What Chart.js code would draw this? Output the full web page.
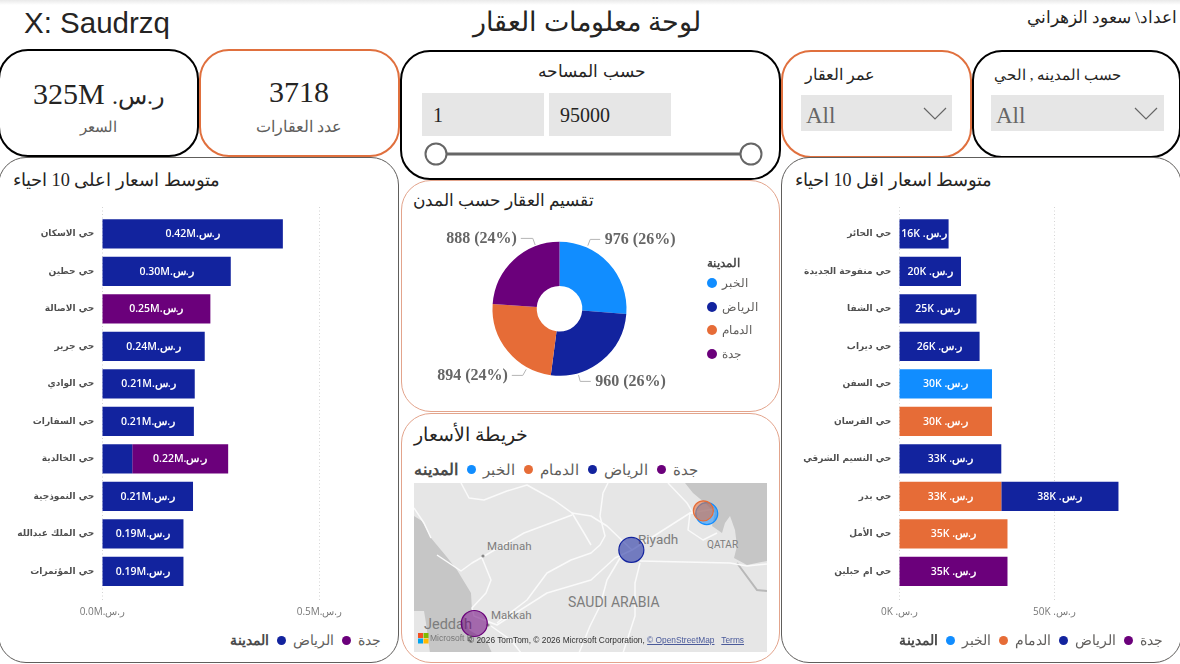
<!DOCTYPE html>
<html lang="ar"><head><meta charset="UTF-8"><title>لوحة معلومات العقار</title>
<script src="https://cdn.jsdelivr.net/npm/chart.js"></script>
<style>
  html,body{margin:0;padding:0;background:#fff;}
  body{position:relative;width:1180px;height:664px;overflow:hidden;font-family:"Liberation Serif",serif;color:#252423;}
  .topband{position:absolute;left:0;top:0;width:1180px;height:5px;background:linear-gradient(#e9e9e9,#fff);}
  .card{position:absolute;box-sizing:border-box;background:transparent;}
  .black{border:2px solid #000;border-radius:30px;}
  .orange{border:2px solid #e0703e;border-radius:30px;}
  .thin{border:1px solid #e3a48c;border-radius:30px;}
  .dark{border:1px solid #605e5c;border-radius:28px;}
  .t{position:absolute;white-space:nowrap;line-height:1;}
  .c{transform:translate(-50%,-50%);}
  .m{transform:translateY(-50%);}
  .box{position:absolute;background:#e6e6e6;}
  canvas{position:absolute;direction:rtl;}
  .legend{position:absolute;display:flex;align-items:center;direction:ltr;white-space:nowrap;color:#605e5c;font-family:"Open Sans",sans-serif;line-height:1;transform:translateY(-50%);}
  .legend b{color:#4a4a4a;}
  .dot{display:inline-block;border-radius:50%;}
  .vlegend{position:absolute;left:707px;top:256px;direction:ltr;color:#605e5c;font-family:"Open Sans",sans-serif;font-size:12px;}
  .vlegend div{position:absolute;white-space:nowrap;display:flex;align-items:center;height:14px;line-height:1;}
  svg{position:absolute;}
</style>
</head><body>
<div class="topband"></div>

<div class="t m" style="left:24px;top:23px;font:29.5px 'Liberation Sans',sans-serif;color:#252423;">X: Saudrzq</div>
<div class="t c" style="left:587px;top:22px;font-size:26.7px;">لوحة معلومات العقار</div>
<div class="t m" style="right:3px;top:18px;font-size:17.2px;" dir="rtl">اعداد\ سعود الزهراني</div>

<div class="card black" style="left:-2px;top:49px;width:201px;height:108px;"></div>
<div class="t c" id="kpiPrice" style="left:99px;top:94px;font-size:30px;" dir="rtl"></div>
<div class="t c" style="left:98px;top:127px;font-size:15px;color:#605e5c;">السعر</div>

<div class="card orange" style="left:199px;top:49px;width:201px;height:108px;"></div>
<div class="t c" id="kpiCount" style="left:299px;top:92px;font-size:30px;"></div>
<div class="t c" style="left:299px;top:127px;font-size:16.4px;color:#605e5c;">عدد العقارات</div>

<div class="card black" style="left:400px;top:50px;width:381px;height:130px;"></div>
<div class="t c" style="left:592px;top:72px;font-size:17.2px;">حسب المساحه</div>
<div class="box" style="left:422px;top:93px;width:122px;height:43px;"></div>
<div class="box" style="left:549px;top:93px;width:122px;height:43px;"></div>
<div class="t m" style="left:433px;top:115px;font-size:20px;">1</div>
<div class="t m" style="left:560px;top:115px;font-size:20px;">95000</div>
<svg style="left:420px;top:140px;" width="350" height="30">
  <line x1="16" y1="14" x2="331" y2="14" stroke="#666" stroke-width="3"/>
  <circle cx="16" cy="14" r="10.5" fill="#fff" stroke="#666" stroke-width="2"/>
  <circle cx="331" cy="14" r="10.5" fill="#fff" stroke="#666" stroke-width="2"/>
</svg>

<div class="card orange" style="left:781px;top:50px;width:191px;height:108px;"></div>
<div class="t m" style="left:805px;top:75px;font-size:16px;">عمر العقار</div>
<div class="box" style="left:801px;top:95px;width:151px;height:36px;"></div>
<div class="t m" style="left:806px;top:115px;font-size:23px;color:#666;">All</div>
<svg style="left:923px;top:107px;" width="25" height="15"><polyline points="1,1 12,12 23,1" fill="none" stroke="#666" stroke-width="1.2"/></svg>

<div class="card black" style="left:972px;top:50px;width:209px;height:108px;"></div>
<div class="t m" style="left:994px;top:75px;font-size:15.2px;">حسب المدينه , الحي</div>
<div class="box" style="left:991px;top:95px;width:173px;height:36px;"></div>
<div class="t m" style="left:996px;top:115px;font-size:23px;color:#666;">All</div>
<svg style="left:1134px;top:107px;" width="25" height="15"><polyline points="1,1 12,12 23,1" fill="none" stroke="#666" stroke-width="1.2"/></svg>

<div class="card dark" style="left:-2px;top:157px;width:401px;height:506px;"></div>
<div class="t m" style="left:13px;top:180px;font-size:18.3px;">متوسط اسعار اعلى 10 احياء</div>
<canvas id="topChart" width="399" height="430" style="left:0;top:200px;"></canvas>
<div class="legend" id="topLegend" style="right:799px;top:640px;font-size:14px;"></div>

<div class="card thin" style="left:401px;top:180px;width:379px;height:232px;"></div>
<div class="t m" style="left:413px;top:201px;font-size:16.6px;">تقسيم العقار حسب المدن</div>
<canvas id="pieChart" width="379" height="190" style="left:401px;top:215px;"></canvas>
<div class="vlegend" id="pieLegend"></div>

<div class="card thin" style="left:401px;top:413px;width:379px;height:250px;"></div>
<div class="t m" style="left:414px;top:434px;font-size:19px;">خريطة الأسعار</div>
<div class="legend" id="mapLegend" style="left:414px;top:469px;font-size:15px;"></div>

<svg style="left:414px;top:483px;" width="353" height="169" viewBox="0 0 353 169">
  <rect width="353" height="169" fill="#e6e6e6"/>
  <polygon fill="#c6c6c6" points="0,33 8,38 17,55 32,73 43,87 57,110 58,128 50,133 55,147 72,157 78,170 0,170"/>
  <polygon fill="#e6e6e6" points="0,128 10,128 12,140 16,170 0,170"/>
  <polygon fill="#c6c6c6" points="271,0 279,10 291,20 301,30 298,43 308,50 311,40 316,33 321,47 323,63 320,75 333,82 353,78 353,0"/>
  <polyline fill="none" stroke="#b8b8b8" stroke-width="2" points="323,80 343,107 353,108"/>
  <g fill="none" stroke="#fafafa" stroke-width="1.5" stroke-linejoin="round">
    <polyline points="47,0 55,15 70,17 93,8 113,2 140,17 158,30 177,33 193,43 218,67"/>
    <polyline points="23,72 47,88 58,80 72,72 110,50 158,32"/>
    <polyline points="0,25 10,40 17,55"/>
    <polyline points="68,75 77,97 72,110 58,125 60,133 83,142 133,110 177,97 201,75 218,67 276,30 300,26"/>
    <polyline points="83,140 113,117 133,90 157,77 177,70 186,62 191,53 186,33 189,10 194,0"/>
    <polyline points="158,30 170,50 177,62"/>
    <polyline points="77,143 97,157 107,170"/>
    <polyline points="226,78 316,80 333,83 353,81"/>
    <polyline points="226,80 221,100 221,133 209,170"/>
    <polyline points="206,75 193,97 186,123 176,143 165,170"/>
    <polyline points="254,0 273,20 279,30 276,30 274,47 289,57 303,50"/>
  </g>
  <circle cx="69" cy="73" r="1.6" fill="#888"/>
  <circle cx="74" cy="142" r="1.6" fill="#888"/>
  <g font-family="Roboto,sans-serif" fill="#7d7d7d">
    <text x="73" y="67" font-size="11.5">Madinah</text>
    <text x="77" y="136" font-size="11.5">Makkah</text>
    <text x="10" y="146" font-size="14.5">Jeddah</text>
    <text x="154" y="124" font-size="14">SAUDI ARABIA</text>
    <text x="224" y="61" font-size="13.5">Riyadh</text>
    <text x="293" y="65" font-size="10">QATAR</text>
  </g>
</svg>
<canvas id="mapChart" width="353" height="169" style="left:414px;top:483px;"></canvas>
<svg style="left:418px;top:633px;" width="11" height="11">
  <rect width="5" height="5" fill="#f25022"/><rect x="5.5" width="5" height="5" fill="#7fba00"/>
  <rect y="5.5" width="5" height="5" fill="#00a4ef"/><rect x="5.5" y="5.5" width="5" height="5" fill="#ffb900"/>
</svg>
<div class="t m" style="left:430px;top:638px;font:8.5px 'Liberation Sans',sans-serif;color:#777;">Microsoft B</div>
<div class="t m" style="left:468px;top:640px;font:8.35px 'Liberation Sans',sans-serif;color:#333;">© 2026 TomTom, © 2026 Microsoft Corporation, <span style="color:#4a5a9a;text-decoration:underline;">© OpenStreetMap</span>&nbsp;&nbsp; <span style="color:#4a5a9a;text-decoration:underline;">Terms</span></div>

<div class="card dark" style="left:781px;top:157px;width:401px;height:506px;"></div>
<div class="t m" style="left:795px;top:180px;font-size:18px;">متوسط اسعار اقل 10 احياء</div>
<canvas id="lowChart" width="399" height="430" style="left:781px;top:200px;"></canvas>
<div class="legend" id="lowLegend" style="right:17px;top:640px;font-size:14px;"></div>

<script>
const kpiPrice = 325;
const kpiCount = 3718;

const cityKhobar  = 'الخبر';
const cityRiyadh  = 'الرياض';
const cityDammam  = 'الدمام';
const cityJeddah  = 'جدة';
const colKhobar = '#118DFF', colRiyadh = '#12239E', colDammam = '#E66C37', colJeddah = '#6B007B';

// top 10 areas, average price in SAR
const topAreas = ['حي الاسكان','حي حطين','حي الاصالة','حي جرير','حي الوادي','حي السفارات','حي الخالدية','حي النموذجية','حي الملك عبدالله','حي المؤتمرات'];
const topRiyadh = [416000,296000,null,236000,213000,211000,69000,209000,187000,187000];
const topJeddah = [null,null,249000,null,null,null,221000,null,null,null];
const topTicks  = [0,500000];

// lowest 10 areas
const lowAreas = ['حي الحائر','حي منفوحة الجديدة','حي الشفا','حي ديراب','حي السفن','حي الفرسان','حي النسيم الشرقي','حي بدر','حي الأمل','حي ام حبلين'];
const lowKhobar = [null,null,null,null,29900,null,null,null,null,null];
const lowDammam = [null,null,null,null,null,29900,null,32900,34900,null];
const lowRiyadh = [15900,19900,24900,25900,null,null,32900,37800,null,null];
const lowJeddah = [null,null,null,null,null,null,null,null,null,34900];
const lowTicks  = [0,50000];

// count per city
const pieCities = [cityKhobar,cityRiyadh,cityDammam,cityJeddah];
const pieCounts = [976,960,894,888];
const pieColors = [colKhobar,colRiyadh,colDammam,colJeddah];

// map bubbles: lon, lat, radius. First dataset is drawn on top
const mapCities = [cityDammam,cityKhobar,cityRiyadh,cityJeddah];
const mapLon = [50.10,50.26,46.67,39.19];
const mapLat = [26.40,26.28,24.70,21.50];
const mapR   = [10,11,12.5,13];
const mapColors = ['230,108,55','17,141,255','18,35,158','107,0,123'];

const riyal = 'ر.س.';
document.getElementById('kpiPrice').innerHTML = '<span style="font-size:24px;">' + riyal + '</span> ' + kpiPrice + 'M';
document.getElementById('kpiCount').textContent = kpiCount;

function legend(id, title, names, colors, dot, gap, dotGap, titleSize) {
  const el = document.getElementById(id);
  let html = '<b style="font-size:' + titleSize + 'px;">' + title + '</b>';
  names.forEach((n, i) => {
    html += '<span class="dot" style="width:' + dot + 'px;height:' + dot + 'px;background:' + colors[i] +
            ';margin:0 ' + dotGap + 'px 0 ' + gap + 'px;"></span><span>' + n + '</span>';
  });
  el.innerHTML = html;
}
legend('topLegend','المدينة',[cityRiyadh,cityJeddah],[colRiyadh,colJeddah],9,8,7,14);
legend('lowLegend','المدينة',[cityKhobar,cityDammam,cityRiyadh,cityJeddah],[colKhobar,colDammam,colRiyadh,colJeddah],9,8,7,14);
legend('mapLegend','المدينه',[cityKhobar,cityDammam,cityRiyadh,cityJeddah],[colKhobar,colDammam,colRiyadh,colJeddah],9,9,7,16);

// vertical legend of the doughnut
const pl = document.getElementById('pieLegend');
let plHtml = '<div style="left:0;top:0;font-weight:bold;color:#4a4a4a;">المدينة</div>';
pieCities.forEach((n, i) => {
  plHtml += '<div style="left:0;top:' + (20 + i * 23.5) + 'px;"><span class="dot" style="width:10px;height:10px;background:' +
            pieColors[i] + ';margin-right:5px;"></span>' + n + '</div>';
});
pl.innerHTML = plHtml;

// value labels inside the bars, hidden when they do not fit
const barLabels = {
  id: 'barLabels',
  afterDatasetsDraw(chart, args, opts) {
    const ctx = chart.ctx;
    ctx.save();
    ctx.font = '600 10.5px "Open Sans",sans-serif';
    ctx.fillStyle = '#fff';
    ctx.textAlign = 'center';
    ctx.textBaseline = 'middle';
    ctx.direction = 'rtl';
    chart.data.datasets.forEach((ds, i) => {
      chart.getDatasetMeta(i).data.forEach((bar, j) => {
        if (ds.data[j] == null) return;
        const txt = opts.format(ds.data[j]);
        const w = Math.abs(bar.x - bar.base);
        if (ctx.measureText(txt).width > w) return;
        ctx.fillText(txt, (bar.x + bar.base) / 2, bar.y + 0.5);
      });
    });
    ctx.restore();
  }
};

// dotted grid running a little past the plot
const dottedGrid = {
  id: 'dottedGrid',
  beforeDatasetsDraw(chart) {
    const ctx = chart.ctx, x = chart.scales.x, a = chart.chartArea;
    ctx.save();
    ctx.strokeStyle = '#d4d4d4';
    ctx.setLineDash([1, 2.5]);
    x.ticks.forEach(t => {
      const px = Math.round(x.getPixelForValue(t.value)) + 0.5;
      ctx.beginPath();
      ctx.moveTo(px, a.top - 8);
      ctx.lineTo(px, a.bottom + 10);
      ctx.stroke();
    });
    ctx.restore();
  }
};

function barChart(id, labels, datasets, maxVal, tickVals, yWidth, padRight, tickFormat, format) {
  return new Chart(document.getElementById(id), {
    type: 'bar',
    data: { labels, datasets },
    options: {
      indexAxis: 'y',
      responsive: false,
      animation: false,
      layout: { padding: { top: 15, right: padRight, left: 0, bottom: 0 } },
      plugins: { legend: { display: false }, tooltip: { enabled: false }, barLabels: { format } },
      scales: {
        x: {
          stacked: true, min: 0, max: maxVal,
          border: { display: false },
          grid: { display: false, drawTicks: false },
          afterBuildTicks(s) { s.ticks = tickVals.map(v => ({ value: v })); },
          afterFit(s) { s.height = 40; s.paddingLeft = 0; s.paddingRight = 0; },
          ticks: {
            autoSkip: false, padding: 16, maxRotation: 0,
            color: '#777', font: { family: '"Open Sans",sans-serif', size: 10 },
            callback: tickFormat
          }
        },
        y: {
          stacked: true,
          border: { display: false },
          grid: { display: false, drawTicks: false },
          afterFit(s) { s.width = yWidth; },
          ticks: {
            padding: 8, autoSkip: false,
            color: '#4f4f4f', font: { family: '"DejaVu Sans",sans-serif', size: 9, weight: 'bold' }
          }
        }
      }
    },
    plugins: [barLabels, dottedGrid]
  });
}

function series(name, data, color) {
  return { label: name, data, backgroundColor: color, categoryPercentage: 1, barPercentage: 0.78 };
}

barChart('topChart', topAreas, [
  series(cityRiyadh, topRiyadh, colRiyadh),
  series(cityJeddah, topJeddah, colJeddah)
], 620000, topTicks, 102.3, 27.6,
  v => riyal + (v / 1e6).toFixed(1) + 'M',
  v => riyal + (v / 1e6).toFixed(2) + 'M');

barChart('lowChart', lowAreas, [
  series(cityKhobar, lowKhobar, colKhobar),
  series(cityDammam, lowDammam, colDammam),
  series(cityRiyadh, lowRiyadh, colRiyadh),
  series(cityJeddah, lowJeddah, colJeddah)
], 85000, lowTicks, 118.3, 17.2,
  v => riyal + ' ' + Math.round(v / 1e3) + 'K',
  v => riyal + ' ' + Math.round(v / 1e3) + 'K');

// leader lines and labels around the doughnut, offsets from its centre
const pieLeaders = [
  { pts: [[28.3,-63],[30.7,-69.3],[40.7,-69.3]], tx: 45.3, ty: -68.7, align: 'left' },
  { pts: [[19,66.3],[20.7,72.7],[31.3,72.7]], tx: 35.7, ty: 73, align: 'left' },
  { pts: [[-33.3,60.7],[-36.7,66.7],[-47.7,66.7]], tx: -51.7, ty: 66.7, align: 'right' },
  { pts: [[-24.3,-63.7],[-26.7,-70.3],[-38.7,-70.3]], tx: -42.7, ty: -70.3, align: 'right' }
];
const pieLabels = {
  id: 'pieLabels',
  afterDatasetsDraw(chart) {
    const ctx = chart.ctx, arc = chart.getDatasetMeta(0).data[0];
    const total = pieCounts.reduce((a, b) => a + b, 0);
    ctx.save();
    ctx.direction = 'ltr';
    ctx.font = 'bold 16px "Liberation Serif",serif';
    ctx.textBaseline = 'middle';
    pieLeaders.forEach((l, i) => {
      ctx.strokeStyle = '#b5b5b5';
      ctx.lineWidth = 1;
      ctx.beginPath();
      l.pts.forEach((p, k) => k ? ctx.lineTo(arc.x + p[0], arc.y + p[1]) : ctx.moveTo(arc.x + p[0], arc.y + p[1]));
      ctx.stroke();
      ctx.fillStyle = '#666';
      ctx.textAlign = l.align;
      ctx.fillText(pieCounts[i] + ' (' + Math.round(pieCounts[i] / total * 100) + '%)', arc.x + l.tx, arc.y + l.ty);
    });
    ctx.restore();
  }
};

new Chart(document.getElementById('pieChart'), {
  type: 'doughnut',
  data: { labels: pieCities, datasets: [{ data: pieCounts, backgroundColor: pieColors, borderWidth: 0 }] },
  options: {
    responsive: false,
    animation: false,
    cutout: '34%',
    layout: { padding: { left: 91.5, right: 153.5, top: 26.7, bottom: 29.3 } },
    plugins: { legend: { display: false }, tooltip: { enabled: false } }
  },
  plugins: [pieLabels]
});

new Chart(document.getElementById('mapChart'), {
  type: 'bubble',
  data: {
    datasets: mapCities.map((c, i) => ({
      label: c,
      data: [{ x: mapLon[i], y: mapLat[i], r: mapR[i] }],
      backgroundColor: 'rgba(' + mapColors[i] + ',0.55)',
      borderColor: 'rgb(' + mapColors[i] + ')',
      borderWidth: 1.2,
      clip: false
    }))
  },
  options: {
    responsive: false,
    animation: false,
    layout: { autoPadding: false },
    plugins: { legend: { display: false }, tooltip: { enabled: false } },
    scales: {
      x: { type: 'linear', display: false, min: 36.32, max: 53.13 },
      y: { type: 'linear', display: false, min: 20.26, max: 27.61 }
    }
  }
});
</script>
</body></html>
